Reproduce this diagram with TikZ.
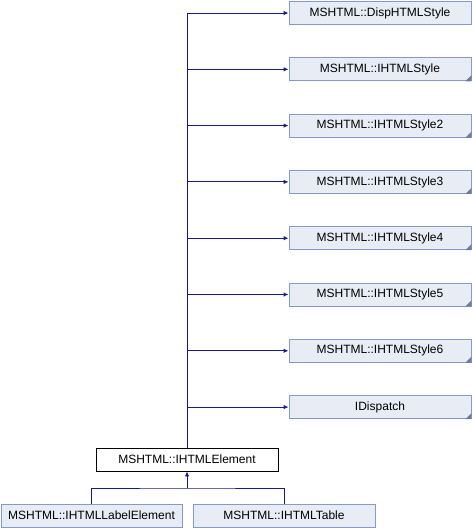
\documentclass[tikz,border=0pt]{standalone}
\usepackage{fontspec}
\setmainfont{Liberation Sans}
\usetikzlibrary{arrows.meta,positioning}

\definecolor{edgeblue}{RGB}{25,25,150}
\definecolor{boxfill}{RGB}{232,236,245}
\definecolor{boxline}{RGB}{132,155,202}

\tikzset{
    cls/.style={draw=boxline, fill=boxfill, line width=0.9pt, minimum width=182pt, minimum height=23pt,
        inner sep=0pt, font=\fontsize{12}{14}\selectfont},
    inh/.style={draw=edgeblue, line width=0.9pt, -{Latex[length=5pt,width=4.5pt]}},
    cut/.style={fill=boxline!80!black},
}

\begin{document}
\begin{tikzpicture}[x=1pt, y=-1pt]
    \useasboundingbox (0,0) rectangle (472,528);

    % Base classes
    \node[cls] (disp)   at (380,13)    {MSHTML::DispHTMLStyle};
    \node[cls] (style)  at (380,69.3)  {MSHTML::IHTMLStyle};
    \node[cls] (style2) at (380,125.6) {MSHTML::IHTMLStyle2};
    \node[cls] (style3) at (380,181.9) {MSHTML::IHTMLStyle3};
    \node[cls] (style4) at (380,238.2) {MSHTML::IHTMLStyle4};
    \node[cls] (style5) at (380,294.5) {MSHTML::IHTMLStyle5};
    \node[cls] (style6) at (380,350.8) {MSHTML::IHTMLStyle6};
    \node[cls] (idisp)  at (380,407.1) {IDispatch};

    % Truncation marks
    \foreach \b in {style,style2,style3,style4,style5,style6,idisp}
        \fill[cut] (\b.south east) -- ++(-6,0) -- ++(6,-6) -- cycle;

    % Element and derived classes
    \node[cls, draw=black, fill=white] (elem) at (187,459.5) {MSHTML::IHTMLElement};
    \node[cls, minimum width=181pt] (lbl) at (91.5,515.5) {MSHTML::IHTMLLabelElement};
    \node[cls] (tbl) at (284,515.5) {MSHTML::IHTMLTable};

    % Inheritance to bases
    \draw[edgeblue, line width=0.9pt] (elem.north) -- (elem.north |- disp.west);
    \foreach \b in {disp,style,style2,style3,style4,style5,style6,idisp}
        \draw[inh] (elem.north |- \b.west) -- (\b.west);

    % Derived classes
    \coordinate (fork) at (187,488);
    \draw[edgeblue, line width=0.9pt] (lbl.north) |- (fork) -| (tbl.north);
    \draw[inh] (fork) -- (elem.south);
\end{tikzpicture}
\end{document}
